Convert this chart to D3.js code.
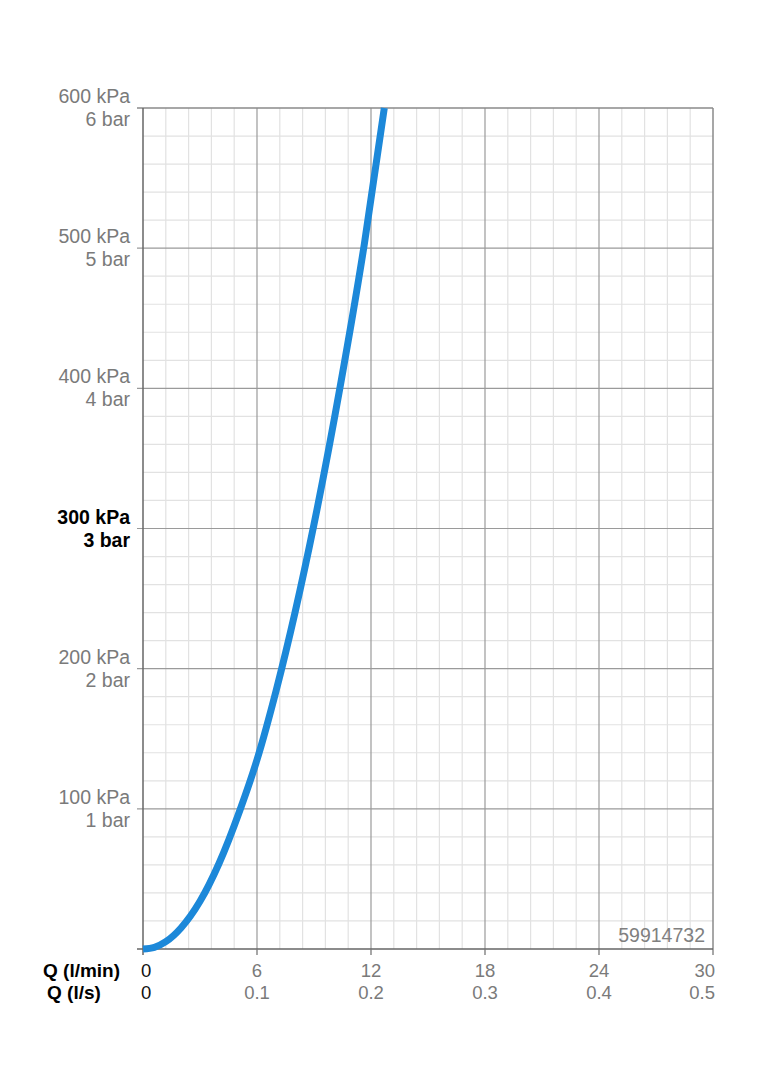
<!DOCTYPE html>
<html><head><meta charset="utf-8">
<script src="https://cdn.jsdelivr.net/npm/d3@7"></script>
<style>body{margin:0;background:#fff}svg{display:block}text{font-family:"Liberation Sans",Arial,Helvetica,sans-serif}</style>
</head><body><svg id="c" width="764" height="1080"></svg>
<script>
// data
const flowLmin = [0, 0.6, 1.2, 2.0, 3.0, 4.0, 5.1, 6.0, 7.0, 8.0, 9.0, 10.4, 11.65, 12.7];
const pressureKPa = [0, 1.2, 5.2, 15, 34, 61, 99, 135, 184, 240, 303, 403, 503, 600];
const xTicks = [0, 6, 12, 18, 24, 30];
const xTicksLs = ["0", "0.1", "0.2", "0.3", "0.4", "0.5"];
const yTicks = [100, 200, 300, 400, 500, 600];
const yTicksBar = ["1 bar", "2 bar", "3 bar", "4 bar", "5 bar", "6 bar"];
const codeLabel = "59914732";

const svg = d3.select("#c");
const L = 143, R = 713, T = 108, B = 949;
const x = d3.scaleLinear().domain([0, 30]).range([L, R]);
const y = d3.scaleLinear().domain([0, 600]).range([B, T]);

// minor grid
const minorX = d3.range(0, 30.001, 1.2).filter(v => Math.abs(v % 6) > 0.01 && Math.abs(v % 6 - 6) > 0.01);
const minorY = d3.range(0, 600.001, 20).filter(v => v % 100 !== 0);
svg.append("g").selectAll("line").data(minorX).join("line")
  .attr("x1", d => x(d)).attr("x2", d => x(d)).attr("y1", T).attr("y2", B)
  .attr("stroke", "#e2e2e2").attr("stroke-width", 1.2);
svg.append("g").selectAll("line").data(minorY).join("line")
  .attr("y1", d => y(d)).attr("y2", d => y(d)).attr("x1", L).attr("x2", R)
  .attr("stroke", "#e2e2e2").attr("stroke-width", 1.2);
// major grid
svg.append("g").selectAll("line").data(xTicks.slice(1, -1)).join("line")
  .attr("x1", d => x(d)).attr("x2", d => x(d)).attr("y1", T).attr("y2", B)
  .attr("stroke", "#9a9a9a").attr("stroke-width", 1.2);
svg.append("g").selectAll("line").data(yTicks.slice(0, -1)).join("line")
  .attr("y1", d => y(d)).attr("y2", d => y(d)).attr("x1", L - 6).attr("x2", R)
  .attr("stroke", "#9a9a9a").attr("stroke-width", 1.2);
// frame
svg.append("line").attr("x1", L - 6).attr("x2", R).attr("y1", T).attr("y2", T).attr("stroke", "#8a8a8a").attr("stroke-width", 1.5);
svg.append("line").attr("x1", R).attr("x2", R).attr("y1", T).attr("y2", B + 6).attr("stroke", "#8a8a8a").attr("stroke-width", 1.5);
svg.append("line").attr("x1", L).attr("x2", L).attr("y1", T).attr("y2", B + 6).attr("stroke", "#666").attr("stroke-width", 1.5);
svg.append("line").attr("x1", L - 6).attr("x2", R).attr("y1", B).attr("y2", B).attr("stroke", "#666").attr("stroke-width", 1.5);
// x tick stubs
svg.append("g").selectAll("line").data(xTicks.slice(1, -1)).join("line")
  .attr("x1", d => x(d)).attr("x2", d => x(d)).attr("y1", B).attr("y2", B + 6)
  .attr("stroke", "#777").attr("stroke-width", 1.3);

// curve
const pts = flowLmin.map((q, i) => [q, pressureKPa[i]]);
svg.append("path").datum(pts)
  .attr("d", d3.line().x(d => x(d[0])).y(d => y(d[1])).curve(d3.curveMonotoneX))
  .attr("fill", "none").attr("stroke", "#1c88d9").attr("stroke-width", 7).attr("stroke-linecap", "butt");

// y labels
const yl = svg.append("g").attr("font-size", 19.5).attr("text-anchor", "end");
yTicks.forEach((v, i) => {
  const bold = v === 300;
  const col = bold ? "#000" : "#7a7a7a";
  yl.append("text").attr("x", 130).attr("y", y(v) - 5).attr("fill", col)
    .attr("font-weight", bold ? "bold" : "normal").text(v + " kPa");
  yl.append("text").attr("x", 130).attr("y", y(v) + 18).attr("fill", col)
    .attr("font-weight", bold ? "bold" : "normal").text(yTicksBar[i]);
});

// x labels
const xl = svg.append("g").attr("font-size", 18.5);
xTicks.forEach((v, i) => {
  const anchor = i === 0 ? "start" : (i === xTicks.length - 1 ? "end" : "middle");
  const px = i === 0 ? x(v) - 2 : (i === xTicks.length - 1 ? x(v) + 2 : x(v));
  const col = i === 0 ? "#111" : "#7a7a7a";
  xl.append("text").attr("x", px).attr("y", 977).attr("text-anchor", anchor).attr("fill", col).text(v);
  xl.append("text").attr("x", px).attr("y", 999).attr("text-anchor", anchor).attr("fill", col).text(xTicksLs[i]);
});
svg.append("text").attr("x", 43).attr("y", 977).attr("font-size", 19).attr("font-weight", "bold").attr("fill", "#000").text("Q (l/min)");
svg.append("text").attr("x", 47).attr("y", 999).attr("font-size", 19).attr("font-weight", "bold").attr("fill", "#000").text("Q (l/s)");

svg.append("text").attr("x", 705).attr("y", 942).attr("text-anchor", "end").attr("font-size", 19.5).attr("fill", "#808080").text(codeLabel);
</script></body></html>
